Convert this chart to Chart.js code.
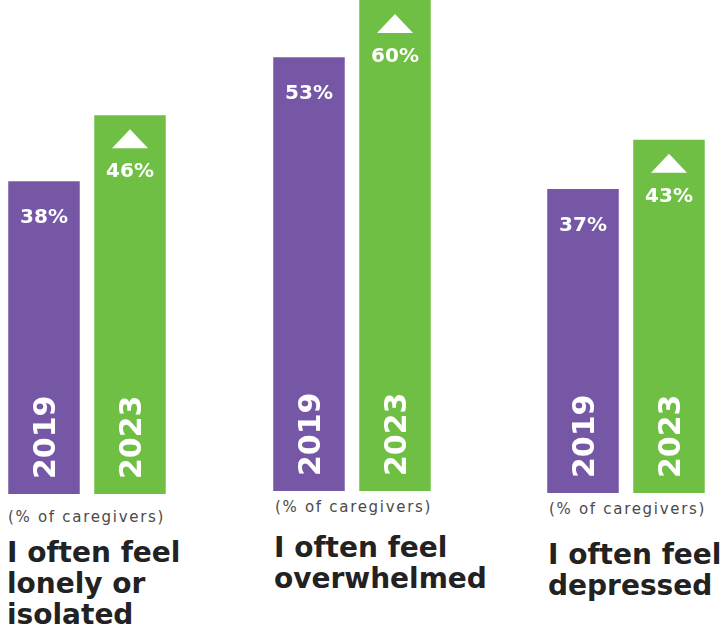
<!DOCTYPE html>
<html>
<head>
<meta charset="utf-8">
<script src="https://cdn.jsdelivr.net/npm/chart.js@4.4.1/dist/chart.umd.min.js"></script>
<style>
  html, body { margin: 0; padding: 0; background: #ffffff; }
  body { width: 722px; height: 631px; position: relative; overflow: hidden; }
  .chartbox { position: absolute; top: 0; }
  .caption { position: absolute; font-family: 'DejaVu Sans', sans-serif; font-size: 15px; line-height: 18px;
             letter-spacing: 1.7px; color: #4a4a4a; white-space: nowrap; }
  .heading { position: absolute; font-family: 'DejaVu Sans', sans-serif; font-weight: bold; font-size: 28px;
             line-height: 31px; color: #222222; white-space: nowrap; }
</style>
</head>
<body>
<script>
// ---- data ----
const categories = [
  ['I often feel', 'lonely or', 'isolated'],
  ['I often feel', 'overwhelmed'],
  ['I often feel', 'depressed']
];
const seriesNames = ['2019', '2023'];
const values2019 = [38, 53, 37];
const values2023 = [46, 60, 43];
const unitLabel = '(% of caregivers)';

// ---- layout / style (not data) ----
const colors = ['#7657a6', '#6fbf44'];
const groupLayout = [
  { center: 87,  base: 494, capX: 8,   capTop: 508, headX: 7,   headTop: 537 },
  { center: 352, base: 491, capX: 275, capTop: 498, headX: 274, headTop: 532 },
  { center: 626, base: 493, capX: 549, capTop: 500, headX: 548, headTop: 539 }
];
const CW = 200;

const labelPlugin = {
  id: 'barLabels',
  afterDatasetsDraw(chart) {
    const ctx = chart.ctx;
    const ds = chart.data.datasets;
    ds.forEach((d, di) => {
      const meta = chart.getDatasetMeta(di);
      meta.data.forEach((bar, i) => {
        const v = d.data[i];
        const cx = bar.x, top = bar.y, base = bar.base;
        ctx.save();
        ctx.fillStyle = '#ffffff';
        ctx.font = 'bold 20px "DejaVu Sans"';
        ctx.textAlign = 'center';
        ctx.textBaseline = 'alphabetic';
        const isUp = di === 1 && v > ds[0].data[i];
        if (isUp) {
          ctx.beginPath();
          ctx.moveTo(cx, top + 14);
          ctx.lineTo(cx + 18, top + 33);
          ctx.lineTo(cx - 18, top + 33);
          ctx.closePath();
          ctx.fill();
          ctx.fillText(v + '%', cx, top + 62);
        } else {
          ctx.fillText(v + '%', cx, top + 42);
        }
        ctx.font = 'bold 30px "DejaVu Sans"';
        ctx.translate(cx, base - 15);
        ctx.rotate(-Math.PI / 2);
        ctx.textAlign = 'left';
        ctx.fillText(d.label, 0, 11);
        ctx.restore();
      });
    });
  }
};

categories.forEach((lines, i) => {
  const L = groupLayout[i];
  const box = document.createElement('div');
  box.className = 'chartbox';
  box.style.left = (L.center - CW / 2) + 'px';
  box.style.width = CW + 'px';
  box.style.height = L.base + 'px';
  const cv = document.createElement('canvas');
  cv.width = CW; cv.height = L.base;
  cv.style.width = CW + 'px'; cv.style.height = L.base + 'px';
  box.appendChild(cv);
  document.body.appendChild(box);

  new Chart(cv, {
    type: 'bar',
    data: {
      labels: [lines.join(' ')],
      datasets: [
        { label: seriesNames[0], data: [values2019[i]], backgroundColor: colors[0] },
        { label: seriesNames[1], data: [values2023[i]], backgroundColor: colors[1] }
      ]
    },
    options: {
      responsive: false,
      animation: false,
      devicePixelRatio: 1,
      layout: { padding: 0 },
      categoryPercentage: 0.86,
      barPercentage: 0.8314,
      plugins: { legend: { display: false }, tooltip: { enabled: false } },
      scales: {
        x: { display: false },
        y: { display: false, min: 0, max: 60 }
      }
    },
    plugins: [labelPlugin]
  });

  const cap = document.createElement('div');
  cap.className = 'caption';
  cap.style.left = L.capX + 'px';
  cap.style.top = L.capTop + 'px';
  cap.textContent = unitLabel;
  document.body.appendChild(cap);

  const head = document.createElement('div');
  head.className = 'heading';
  head.style.left = L.headX + 'px';
  head.style.top = L.headTop + 'px';
  head.innerHTML = lines.join('<br>');
  document.body.appendChild(head);
});
</script>
</body>
</html>
